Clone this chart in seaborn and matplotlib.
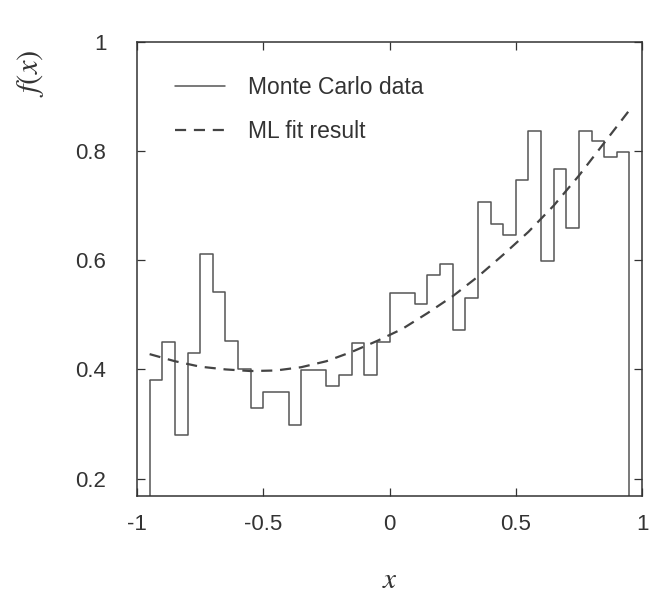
import numpy as np
import matplotlib

matplotlib.use("Agg")
import matplotlib.pyplot as plt
import seaborn as sns

# histogram: 38 bins of width 0.05 from -0.95 to 0.95
bin_edges = [round(-0.95 + 0.05 * i, 3) for i in range(39)]
mc_values = [
    0.380, 0.450, 0.280, 0.430, 0.611, 0.541, 0.452, 0.400, 0.330, 0.359,
    0.358, 0.298, 0.398, 0.398, 0.369, 0.389, 0.448, 0.389, 0.450, 0.540,
    0.540, 0.520, 0.573, 0.593, 0.472, 0.531, 0.706, 0.666, 0.647, 0.748,
    0.837, 0.598, 0.767, 0.659, 0.837, 0.818, 0.789, 0.798,
]

# ML fit curve
fit_x = [-0.95, -0.85, -0.75, -0.65, -0.55, -0.45, -0.35, -0.25, -0.15, -0.05,
         0.05, 0.15, 0.25, 0.35, 0.45, 0.55, 0.65, 0.75, 0.85, 0.95]
fit_y = [0.428, 0.415, 0.405, 0.400, 0.397, 0.398, 0.404, 0.415, 0.432, 0.452,
         0.474, 0.503, 0.534, 0.570, 0.610, 0.652, 0.700, 0.755, 0.815, 0.875]

x_ticks = [-1, -0.5, 0, 0.5, 1]
x_ticklabels = ["-1", "-0.5", "0", "0.5", "1"]
y_ticks = [0.2, 0.4, 0.6, 0.8, 1.0]
y_ticklabels = ["0.2", "0.4", "0.6", "0.8", "1"]

sns.set_theme(style="ticks")
plt.rcParams["font.family"] = ["Liberation Sans", "DejaVu Sans"]
plt.rcParams["mathtext.fontset"] = "stix"

fig = plt.figure(figsize=(6.5, 6.1), dpi=100)
ax = fig.add_axes([137 / 650, 1 - 496 / 610, 505 / 650, 454 / 610])

centers = [(a + b) / 2 for a, b in zip(bin_edges[:-1], bin_edges[1:])]
sns.histplot(x=centers, weights=mc_values, bins=bin_edges, element="step",
             fill=False, color="#555555", linewidth=1.1, ax=ax,
             label="Monte Carlo data")
# vertical drops at both ends of the histogram
ax.vlines([bin_edges[0], bin_edges[-1]], 0, [mc_values[0], mc_values[-1]],
          color="#555555", linewidth=1.1)

sns.lineplot(x=fit_x, y=fit_y, color="#444444", linewidth=1.6,
             linestyle=(0, (5, 3.5)), ax=ax, label="ML fit result")

ax.set_xlim(-1, 1)
ax.set_ylim(0.168, 1.0)
ax.set_xticks(x_ticks)
ax.set_xticklabels(x_ticklabels)
ax.set_yticks(y_ticks)
ax.set_yticklabels(y_ticklabels)
ax.tick_params(direction="in", length=6, width=0.9, color="#333333",
               top=True, right=True, labelsize=16, labelcolor="#333333")
ax.tick_params(axis="x", pad=13)
ax.tick_params(axis="y", pad=22)
for sp in ax.spines.values():
    sp.set_linewidth(1.1)
    sp.set_color("#333333")

ax.set_xlabel("$x$", fontsize=21, color="#333333")
ax.xaxis.set_label_coords(0.5, -0.155)
ax.set_ylabel("$f(x)$", fontsize=22, color="#333333")
ax.yaxis.set_label_coords(-0.18, 0.93)

ax.legend(loc="upper left", bbox_to_anchor=(0.075, 0.925), frameon=False,
          fontsize=16.5, handlelength=2.2, handletextpad=1.0,
          labelspacing=0.9, borderaxespad=0, borderpad=0,
          labelcolor="#333333")

fig.savefig("out.png", dpi=100)
